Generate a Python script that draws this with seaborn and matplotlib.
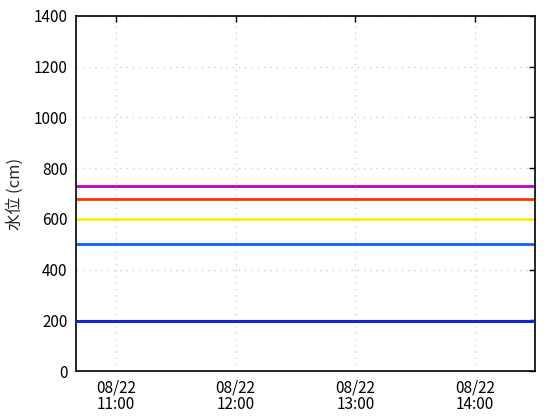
import matplotlib
matplotlib.use("Agg")
import matplotlib.pyplot as plt
import matplotlib.dates as mdates
import seaborn as sns
import pandas as pd

sns.set_style("white")
plt.rcParams['font.family'] = ['Noto Sans CJK JP', 'DejaVu Sans']

times = ["10:40", "10:50", "11:00", "11:10", "11:20", "11:30", "11:40", "11:50",
         "12:00", "12:10", "12:20", "12:30", "12:40", "12:50", "13:00", "13:10",
         "13:20", "13:30", "13:40", "13:50", "14:00", "14:10", "14:20", "14:30"]
levels = [197, 197, 197, 197, 197, 197, 197, 197,
          197, 197, 197, 197, 197, 197, 197, 197,
          197, 197, 197, 197, 197, 197, 197, 197]
thresholds = [730, 680, 600, 500]
threshold_colors = ["#C000C0", "#FF3300", "#F5EE10", "#1060FF"]
xtick_times = ["11:00", "12:00", "13:00", "14:00"]
ylabel = "水位 (cm)"

df = pd.DataFrame({"time": pd.to_datetime(["2023-08-22 " + t for t in times]),
                   "level": levels})

fig = plt.figure(figsize=(5.6, 4.2), dpi=100)
ax = fig.add_axes([76/560, 1 - 371/420, (535-76)/560, (371-16)/420])

for v, c in zip(thresholds, threshold_colors):
    ax.axhline(v, color=c, lw=2, zorder=2)

sns.lineplot(data=df, x="time", y="level", ax=ax, color="#1028D0", lw=2.2, zorder=3)

ax.set_xlim(df["time"].iloc[0], df["time"].iloc[-1])
ax.set_ylim(0, 1400)
ax.set_yticks(range(0, 1401, 200))
xt = pd.to_datetime(["2023-08-22 " + t for t in xtick_times])
ax.set_xticks(xt)
ax.xaxis.set_major_formatter(mdates.DateFormatter("%m/%d\n%H:%M"))
ax.grid(True, color="#D0D0D0", linestyle=(0, (1, 3.5)), lw=1)
ax.tick_params(direction="in", length=4, width=1, top=True, right=True,
               labelsize=11, colors="black", pad=6)
for s in ax.spines.values():
    s.set_color("black")
    s.set_linewidth(1.2)
ax.set_xlabel("")
ax.set_ylabel(ylabel, fontsize=12, labelpad=7)
for lbl in ax.get_xticklabels():
    lbl.set_linespacing(0.95)

fig.savefig("out.png", dpi=100)
